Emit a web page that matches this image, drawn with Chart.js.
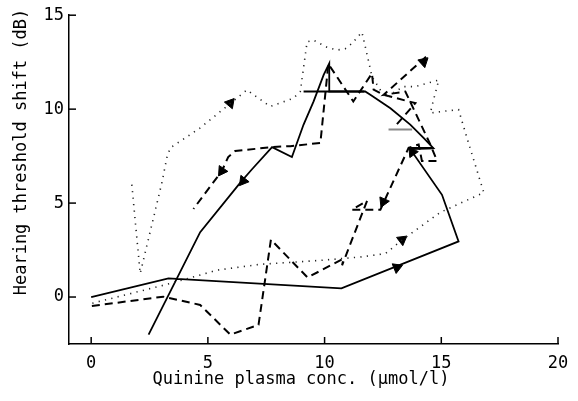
<!DOCTYPE html>
<html>
<head>
<meta charset="utf-8">
<script src="https://cdn.jsdelivr.net/npm/chart.js@4.4.1/dist/chart.umd.min.js"></script>
<style>
  html, body { margin: 0; padding: 0; background: #fff; }
  #wrap { width: 578px; height: 401px; }
</style>
</head>
<body>
<div id="wrap"><canvas id="chart" width="578" height="401"></canvas></div>
<script>
// axis ticks
const xTicks = [0, 5, 10, 15, 20];
const yTicks = [0, 5, 10, 15];

// solid subject: [conc, shift]
const solidCurve = [
  [0, 0], [3.31, 0.99], [10.72, 0.46], [15.74, 2.96], [15.03, 5.44], [13.67, 7.87],
  [14.66, 7.92], [14.24, 8.47], [13.67, 9.18], [12.82, 10.05], [11.96, 10.76], [11.74, 10.94],
  [10.2, 10.94], [10.2, 12.43], [9.96, 11.82], [9.53, 10.41], [9.1, 9.18], [8.6, 7.45],
  [7.75, 7.98], [6.89, 6.8], [6.39, 6.09], [4.67, 3.45], [2.46, -2.0]
];

// dashed subject (two traced pieces)
const dashedRise = [
  [0.03, -0.48], [3.09, 0.02], [4.67, -0.42], [5.96, -2.0], [7.17, -1.48], [7.7, 3.05],
  [9.27, 1.04], [10.81, 2.04], [10.75, 1.69], [11.82, 5.12], [11.17, 4.65], [12.39, 4.65],
  [13.6, 7.94], [14.03, 8.12], [14.17, 7.24], [14.82, 7.24], [14.53, 8.12], [13.46, 10.94],
  [12.53, 10.76], [14.45, 12.9]
];
const dashedFall = [
  [13.1, 9.2], [13.89, 10.32], [12.53, 10.76], [12.1, 11.04], [12.03, 11.9], [11.23, 10.41],
  [10.16, 12.41], [9.82, 8.2], [8.53, 8.03], [7.74, 7.98], [6.17, 7.77], [5.87, 7.45],
  [5.6, 6.71], [4.38, 4.69]
];

// dotted subject
const dottedCurve = [
  [0.05, -0.33], [3.39, 0.72], [5.39, 1.43], [7.24, 1.74], [9.82, 1.95], [11.53, 2.13],
  [12.6, 2.31], [13.39, 3.1], [14.96, 4.51], [16.82, 5.56], [16.1, 8.47], [15.74, 9.97],
  [15.03, 9.88], [14.53, 9.79], [14.67, 10.5], [14.89, 11.55], [13.89, 11.2], [13.37, 11.2],
  [12.6, 10.6], [12.03, 11.73], [11.89, 12.52], [11.6, 14.1], [11.17, 13.49], [10.89, 13.22],
  [10.53, 13.14], [10.1, 13.3], [9.53, 13.67], [9.25, 13.58], [8.96, 10.94], [8.67, 10.58],
  [7.67, 10.14], [6.67, 11.02], [4.67, 9.0], [3.39, 7.94], [3.24, 7.41], [3.03, 6.09],
  [2.1, 1.25], [1.74, 6.0]
];

// short horizontal bars: [from, to, level]
const barsBlack = [[9.1, 11.7, 10.94], [13.7, 14.66, 7.92]];
const barsGrey = [[12.74, 13.75, 8.91]];

// direction arrows: [conc, shift] and heading in degrees (0 = up, clockwise)
const arrowPos = [
  [13.1, 1.57], [6.51, 6.18], [13.76, 7.71], [5.6, 6.71], [12.52, 5.07],
  [14.24, 12.52], [5.96, 10.32], [13.32, 3.05]
];
const arrowAngle = [68, 218, 325, 214, 204, 48, 40, 53];

const pts = arr => arr.map(p => ({ x: p[0], y: p[1] }));

const datasets = [
  { data: pts(dottedCurve), borderColor: '#222', borderWidth: 1.6, borderDash: [1.2, 5.3] },
  { data: pts(dashedRise), borderColor: '#000', borderWidth: 2, borderDash: [8, 5] },
  { data: pts(dashedFall), borderColor: '#000', borderWidth: 2, borderDash: [8, 5] },
  { data: pts(solidCurve), borderColor: '#000', borderWidth: 1.8 }
];
barsBlack.forEach(b => datasets.push({ data: pts([[b[0], b[2]], [b[1], b[2]]]), borderColor: '#000', borderWidth: 2.2 }));
barsGrey.forEach(b => datasets.push({ data: pts([[b[0], b[2]], [b[1], b[2]]]), borderColor: '#888', borderWidth: 2 }));
datasets.forEach(d => { d.showLine = true; d.pointRadius = 0; d.tension = 0; d.fill = false; });

datasets.push({
  data: pts(arrowPos),
  showLine: false,
  pointStyle: 'triangle',
  pointRadius: 6,
  pointRotation: arrowAngle,
  pointBackgroundColor: '#000',
  pointBorderColor: '#000',
  pointBorderWidth: 1
});

const FONT = '"DejaVu Sans Mono", monospace';

// ticks drawn into the plot + hand placed axis titles
const axisDecor = {
  id: 'axisDecor',
  afterDraw(chart) {
    const { ctx, scales: { x, y } } = chart;
    ctx.save();
    ctx.strokeStyle = '#000';
    ctx.lineWidth = 1.5;
    xTicks.forEach(v => {
      const px = x.getPixelForValue(v);
      ctx.beginPath(); ctx.moveTo(px, x.top); ctx.lineTo(px, x.top - 7); ctx.stroke();
    });
    yTicks.forEach(v => {
      const py = y.getPixelForValue(v);
      ctx.beginPath(); ctx.moveTo(y.right, py); ctx.lineTo(y.right + 7, py); ctx.stroke();
    });
    ctx.fillStyle = '#000';
    ctx.font = '17px ' + FONT;
    ctx.textAlign = 'center';
    ctx.textBaseline = 'middle';
    ctx.fillText('Quinine plasma conc. (\u00b5mol/l)', 301, 380);
    ctx.translate(22, 152);
    ctx.rotate(-Math.PI / 2);
    ctx.fillText('Hearing threshold shift (dB)', 0, 0);
    ctx.restore();
  }
};

new Chart(document.getElementById('chart'), {
  type: 'scatter',
  data: { datasets },
  options: {
    responsive: false,
    animation: false,
    layout: { padding: { top: 13, right: 20, left: 0, bottom: 0 } },
    plugins: { legend: { display: false }, tooltip: { enabled: false } },
    scales: {
      x: {
        type: 'linear', min: -0.95, max: 20,
        afterBuildTicks: s => { s.ticks = xTicks.map(v => ({ value: v })); },
        afterFit: s => { s.height = 57; },
        grid: { display: false, drawTicks: false },
        border: { display: true, color: '#000', width: 1.5 },
        ticks: { color: '#000', font: { family: FONT, size: 17 }, padding: 9 }
      },
      y: {
        type: 'linear', min: -2.5, max: 15,
        afterBuildTicks: s => { s.ticks = yTicks.map(v => ({ value: v })); },
        afterFit: s => { s.width = 69; },
        grid: { display: false, drawTicks: false },
        border: { display: true, color: '#000', width: 1.5 },
        ticks: { color: '#000', font: { family: FONT, size: 17 }, padding: 5 }
      }
    }
  },
  plugins: [axisDecor]
});
</script>
</body>
</html>
